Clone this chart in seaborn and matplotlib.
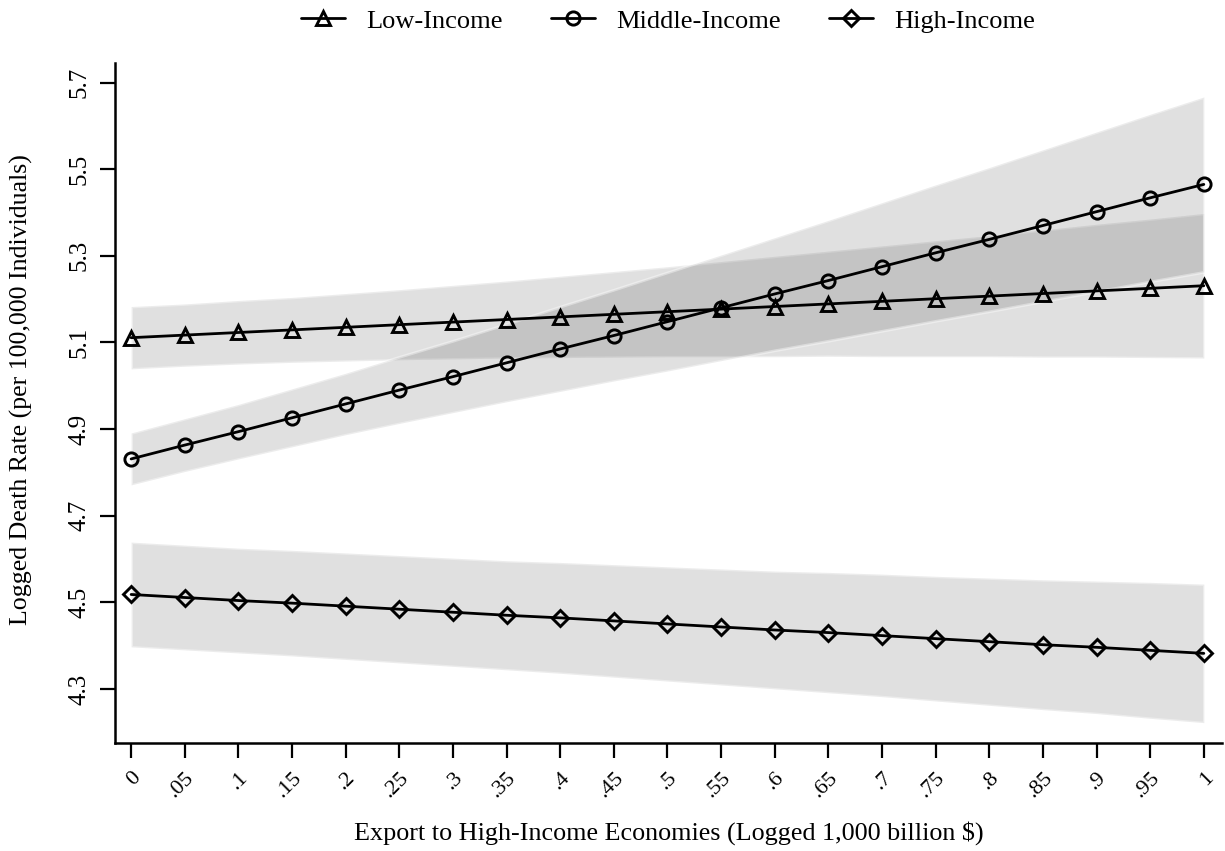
import numpy as np
import pandas as pd
import matplotlib
matplotlib.use("Agg")
import matplotlib.pyplot as plt
import seaborn as sns

# Export levels (logged 1,000 billion $)
export = [0.00, 0.05, 0.10, 0.15, 0.20, 0.25, 0.30, 0.35, 0.40, 0.45, 0.50,
          0.55, 0.60, 0.65, 0.70, 0.75, 0.80, 0.85, 0.90, 0.95, 1.00]
x_tick_labels = ["0", ".05", ".1", ".15", ".2", ".25", ".3", ".35", ".4", ".45", ".5",
                 ".55", ".6", ".65", ".7", ".75", ".8", ".85", ".9", ".95", "1"]
y_ticks = [4.3, 4.5, 4.7, 4.9, 5.1, 5.3, 5.5, 5.7]

# Predicted logged death rate with 95% confidence limits
low_fit = [5.111, 5.117, 5.123, 5.129, 5.135, 5.141, 5.147, 5.153, 5.159, 5.165, 5.171,
           5.177, 5.183, 5.189, 5.195, 5.201, 5.207, 5.213, 5.219, 5.225, 5.231]
low_lo = [5.039, 5.045, 5.050, 5.054, 5.057, 5.060, 5.062, 5.064, 5.065, 5.066, 5.067,
          5.067, 5.067, 5.068, 5.067, 5.067, 5.067, 5.066, 5.066, 5.065, 5.064]
low_hi = [5.183, 5.189, 5.197, 5.204, 5.213, 5.222, 5.232, 5.242, 5.253, 5.264, 5.275,
          5.287, 5.299, 5.311, 5.323, 5.335, 5.347, 5.360, 5.373, 5.385, 5.398]

mid_fit = [4.831, 4.863, 4.894, 4.926, 4.958, 4.990, 5.021, 5.053, 5.085, 5.116, 5.148,
           5.180, 5.212, 5.243, 5.275, 5.307, 5.338, 5.370, 5.402, 5.434, 5.465]
mid_lo = [4.771, 4.802, 4.831, 4.859, 4.887, 4.913, 4.938, 4.963, 4.987, 5.011, 5.034,
          5.058, 5.082, 5.104, 5.127, 5.150, 5.172, 5.195, 5.218, 5.241, 5.263]
mid_hi = [4.891, 4.924, 4.957, 4.993, 5.029, 5.067, 5.104, 5.143, 5.183, 5.222, 5.262,
          5.302, 5.342, 5.382, 5.423, 5.464, 5.504, 5.545, 5.586, 5.627, 5.667]

high_fit = [4.518, 4.511, 4.504, 4.498, 4.491, 4.484, 4.477, 4.470, 4.464, 4.457, 4.450,
            4.443, 4.436, 4.430, 4.423, 4.416, 4.409, 4.402, 4.396, 4.389, 4.382]
high_lo = [4.397, 4.390, 4.383, 4.376, 4.368, 4.360, 4.352, 4.344, 4.336, 4.327, 4.318,
           4.309, 4.300, 4.291, 4.282, 4.272, 4.262, 4.252, 4.243, 4.232, 4.222]
high_hi = [4.639, 4.632, 4.625, 4.620, 4.614, 4.608, 4.602, 4.596, 4.592, 4.587, 4.582,
           4.577, 4.572, 4.569, 4.565, 4.560, 4.556, 4.552, 4.549, 4.546, 4.542]

groups = ["Low-Income", "Middle-Income", "High-Income"]
markers = ["^", "o", "D"]
marker_sizes = [10, 9.5, 8.5]

sns.set_theme(style="white")
plt.rcParams["font.family"] = ["Liberation Serif", "DejaVu Serif"]
plt.rcParams.update({"text.color": "black", "axes.labelcolor": "black",
                     "xtick.color": "black", "ytick.color": "black"})

frames = []
for g, fit, lo, hi in zip(groups,
                          [low_fit, mid_fit, high_fit],
                          [low_lo, mid_lo, high_lo],
                          [low_hi, mid_hi, high_hi]):
    frames.append(pd.DataFrame({"export": export, "fit": fit, "lo": lo, "hi": hi, "group": g}))
df = pd.concat(frames, ignore_index=True)

fig = plt.figure(figsize=(12.25, 8.51), dpi=100)
ax = fig.add_axes([0.0939, 0.1269, 0.9037, 0.7994])

# confidence bands with a faint lighter rim
for g in groups:
    d = df[df["group"] == g]
    ax.fill_between(d["export"], d["lo"], d["hi"], facecolor=(0, 0, 0, 0.12),
                    edgecolor=(1, 1, 1, 0.4), linewidth=2.0, zorder=1)

# predicted values
for g, m, ms in zip(groups, markers, marker_sizes):
    d = df[df["group"] == g]
    sns.lineplot(data=d, x="export", y="fit", ax=ax, color="black", linewidth=2,
                 marker=m, markersize=ms, markerfacecolor="none",
                 markeredgecolor="black", markeredgewidth=2.1, label=g,
                 errorbar=None, zorder=3)

ax.set_xlim(-0.015, 1.017)
ax.set_ylim(4.175, 5.746)
ax.set_xticks(export)
ax.set_xticklabels(x_tick_labels, rotation=45, ha="right", va="top",
                   rotation_mode="anchor", fontsize=16, color="black")
ax.set_yticks(y_ticks)
ax.set_yticklabels([f"{v:.1f}" for v in y_ticks], rotation=90, va="center",
                   fontsize=18, color="black")

ax.tick_params(axis="both", which="major", length=11, width=1.6, color="black",
               labelcolor="black", direction="out", bottom=True, left=True)
ax.tick_params(axis="y", pad=7)
ax.tick_params(axis="x", pad=7)

for side in ["top", "right"]:
    ax.spines[side].set_visible(False)
for side in ["left", "bottom"]:
    ax.spines[side].set_color("black")
    ax.spines[side].set_linewidth(1.8)

ax.set_xlabel("Export to High-Income Economies (Logged 1,000 billion $)", fontsize=18.8,
              color="black")
ax.set_ylabel("Logged Death Rate (per 100,000 Individuals)", fontsize=18.6, color="black")
ax.xaxis.set_label_coords(0.5, -78 / 680, transform=ax.transAxes)
ax.yaxis.set_label_coords(-82 / 1107, 0.52, transform=ax.transAxes)

handles, labels = ax.get_legend_handles_labels()
ax.legend(handles, labels, loc="center", ncol=3, frameon=False, fontsize=19,
          handlelength=1.7, handletextpad=0.8, columnspacing=1.8, labelcolor="black",
          bbox_to_anchor=(0.5, 1 - 21 / 851), bbox_transform=fig.transFigure)
leg = ax.get_legend()
leg.set_bbox_to_anchor((668 / 1225, 1 - 21 / 851), transform=fig.transFigure)

fig.savefig("out.png", dpi=100)
